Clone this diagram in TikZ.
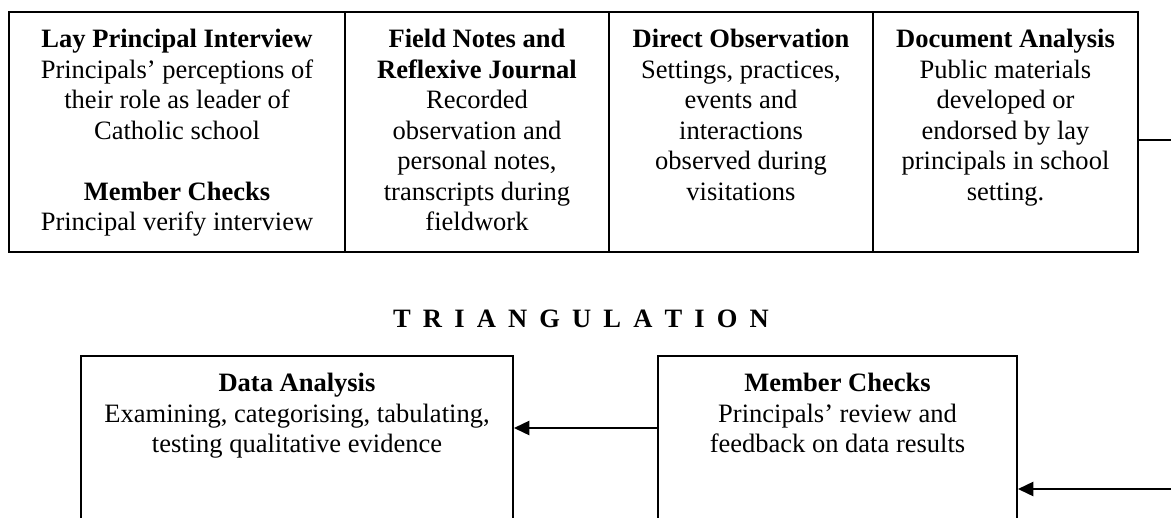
\documentclass[tikz,border=0pt]{standalone}
\usepackage{fontspec}
\setmainfont{Liberation Serif}
\usetikzlibrary{arrows.meta, positioning}
\newcommand{\pxu}{0.4525pt}
\tikzset{
  cell/.style={rectangle, draw=black, line width=0.9pt, inner sep=0pt, minimum height=240*\pxu},
  celltext/.style={align=center, inner sep=0pt, font=\fontsize{12}{13.8}\selectfont},
  stagebox/.style={rectangle, draw=black, line width=0.9pt, inner sep=0pt, minimum height=200*\pxu},
  arrow/.style={-{Triangle[length=7pt, width=6.5pt]}, line width=0.8pt, color=black},
  line/.style={line width=0.8pt, color=black}
}

\begin{document}
\begin{tikzpicture}[x=\pxu, y=-\pxu]
  \useasboundingbox (0,0) rectangle (1171,517);
  \clip (0,0) rectangle (1171,517);

  % Data sources (top row)
  \node[cell, minimum width=336*\pxu] (lay) at (177,132) {};
  \node[cell, minimum width=264*\pxu] (field) at (477,132) {};
  \node[cell, minimum width=264*\pxu] (direct) at (741,132) {};
  \node[cell, minimum width=265*\pxu] (docs) at (1005.5,132) {};

  \node[celltext, below=8.1pt of lay.north] (laytxt) {\textbf{Lay Principal Interview}\\
    Principals' perceptions of\\ their role as leader of\\ Catholic school\\[13.8pt]
    \textbf{Member Checks}\\ Principal verify interview};
  \node[celltext, below=8.1pt of field.north] (fieldtxt) {\textbf{Field Notes and}\\
    \textbf{Reflexive Journal}\\ Recorded\\ observation and\\ personal notes,\\
    transcripts during\\ fieldwork};
  \node[celltext, below=8.1pt of direct.north] (directtxt) {\textbf{Direct Observation}\\
    Settings, practices,\\ events and\\ interactions\\ observed during\\ visitations};
  \node[celltext, below=8.1pt of docs.north] (docstxt) {\textbf{Document Analysis}\\
    Public materials\\ developed or\\ endorsed by lay\\ principals in school\\ setting.};

  % Triangulation heading
  \node[celltext, font=\bfseries\fontsize{12}{13.8}\selectfont, anchor=base] (tri) at (581,327)
    {\spaceskip=5.5pt T R I A N G U L A T I O N};

  % Analysis stages (bottom row)
  \node[stagebox, minimum width=432*\pxu] (analysis) at (297,456) {};
  \node[stagebox, minimum width=359*\pxu] (checks) at (837.5,456) {};

  \node[celltext, below=8.1pt of analysis.north] (analysistxt) {\textbf{Data Analysis}\\
    Examining, categorising, tabulating,\\ testing qualitative evidence};
  \node[celltext, below=8.1pt of checks.north] (checkstxt) {\textbf{Member Checks}\\
    Principals' review and\\ feedback on data results};

  % Connectors
  \coordinate (feedout) at (1180,140);
  \coordinate (feedin) at (1180,489);
  \draw[line] (docs.east |- feedout) -- (feedout);
  \draw[arrow] (feedin) -- (feedin -| checks.east);
  \draw[arrow] ([yshift=28*\pxu]checks.west) -- ([yshift=28*\pxu]analysis.east);
\end{tikzpicture}
\end{document}
